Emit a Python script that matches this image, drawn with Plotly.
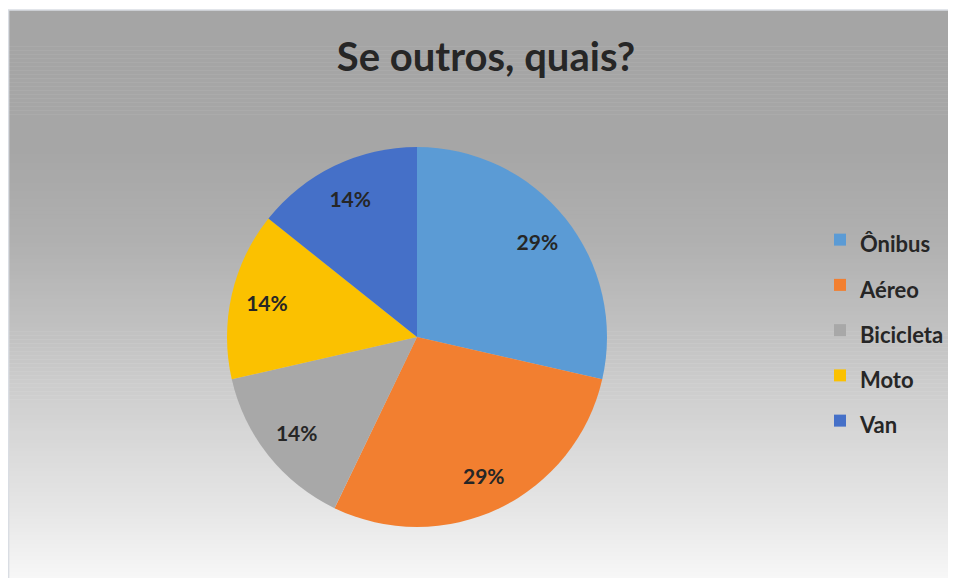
import plotly.graph_objects as go

# Dados do gráfico
categorias = ['Ônibus', 'Aéreo', 'Bicicleta', 'Moto', 'Van']
respostas = [2, 2, 1, 1, 1]
cores = ['#5B9BD5', '#F27F30', '#A8A8A8', '#FBC100', '#4570C8']

# tamanho do papel (a página tem margem de 8px)
W, H = 944, 572
FONTE = 'Lato, sans-serif'

# centro e raio da pizza, em px do papel
cx, cy, r = 409, 329, 190
dominio = dict(x=[(cx - r) / W, (cx + r) / W], y=[1 - (cy + r) / H, 1 - (cy - r) / H])

fig = go.Figure()

# fatias
fig.add_trace(go.Pie(
    labels=[f"<span style='font-size:22px'><b>{c}</b></span>" for c in categorias],
    values=respostas,
    sort=False,
    direction='clockwise',
    rotation=0,
    marker=dict(colors=cores, line=dict(width=0)),
    textinfo='none',
    domain=dominio,
    hoverinfo='label+percent',
))

# rótulos de porcentagem (anel transparente para levá-los para perto da borda)
fig.add_trace(go.Pie(
    labels=categorias,
    values=respostas,
    sort=False,
    direction='clockwise',
    rotation=0,
    hole=0.62,
    marker=dict(colors=['rgba(0,0,0,0)'] * len(categorias), line=dict(width=0)),
    texttemplate='%{percent:.0%}',
    textposition='inside',
    insidetextorientation='horizontal',
    textfont=dict(family=FONTE, size=21, color='#262626', weight='bold'),
    domain=dominio,
    showlegend=False,
    hoverinfo='skip',
))

# fundo em degradê (cinza -> branco), como no Excel
paradas = [(2, 165), (142, 166), (232, 176), (332, 195), (432, 216), (492, 228), (572, 248)]


def tom(y):
    for (y0, c0), (y1, c1) in zip(paradas, paradas[1:]):
        if y0 <= y <= y1:
            return c0 + (c1 - c0) * (y - y0) / (y1 - y0)
    return paradas[-1][1]


shapes = []
n = 142
for i in range(n):
    ya = 2 + (H - 2) * i / n
    yb = 2 + (H - 2) * (i + 1) / n
    c = int(round(tom((ya + yb) / 2)))
    shapes.append(dict(
        type='rect', xref='paper', yref='paper', layer='below',
        x0=0, x1=943 / W, y0=max(0, 1 - (yb + 0.5) / H), y1=1 - ya / H,
        fillcolor=f'rgb({c},{c},{c})', line=dict(width=0),
    ))
shapes.append(dict(
    type='rect', xref='paper', yref='paper', layer='below',
    x0=0.6 / W, x1=943 / W, y0=-0.01, y1=1 - 2 / H,
    line=dict(color='#D9DDE3', width=1.5), fillcolor='rgba(0,0,0,0)',
))

fig.update_layout(
    width=W, height=H,
    margin=dict(l=0, r=0, t=0, b=0),
    paper_bgcolor='white',
    shapes=shapes,
    title=dict(
        text='<b>Se outros, quais?</b>',
        x=478 / W, xanchor='center',
        y=1 - 49 / H, yanchor='middle',
        font=dict(family=FONTE, size=40, color='#262626'),
    ),
    showlegend=True,
    legend=dict(
        x=812 / W, xanchor='left',
        y=1 - 204 / H, yanchor='top',
        bgcolor='rgba(0,0,0,0)',
        font=dict(family=FONTE, size=32.5, color='#262626'),
        traceorder='normal',
    ),
)

fig.write_html('out.html', post_script="document.body.style.overflow='hidden';")
